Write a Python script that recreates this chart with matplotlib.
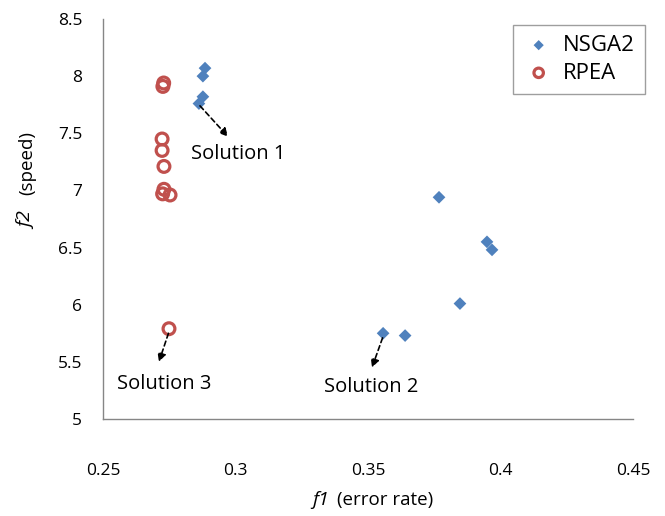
import matplotlib
matplotlib.use("Agg")
import matplotlib.pyplot as plt

plt.rcParams["font.family"] = ["Open Sans", "DejaVu Sans"]

# NSGA2 solutions (f1 = error rate, f2 = speed)
nsga2_f1 = [0.2885, 0.2877, 0.2877, 0.2862, 0.3768, 0.3949, 0.3968, 0.3847, 0.3557, 0.3640]
nsga2_f2 = [8.07, 8.00, 7.82, 7.76, 6.94, 6.55, 6.48, 6.01, 5.75, 5.73]

# RPEA solutions
rpea_f1 = [0.2726, 0.2729, 0.2723, 0.2723, 0.2730, 0.2730, 0.2725, 0.2753, 0.2749]
rpea_f2 = [7.91, 7.94, 7.45, 7.35, 7.21, 7.01, 6.97, 6.96, 5.79]

x_ticks = [0.25, 0.3, 0.35, 0.4, 0.45]
y_ticks = [5, 5.5, 6, 6.5, 7, 7.5, 8, 8.5]

BLUE = "#4F81BD"
RED = "#C0504D"
GRAY = "#868686"

fig = plt.figure(figsize=(6.65, 5.16), dpi=100)
ax = fig.add_axes([103 / 665, 1 - 419 / 516, 530 / 665, 400 / 516])

ax.scatter(nsga2_f1, nsga2_f2, marker="D", s=42, color=BLUE, edgecolors="none",
           label="NSGA2", zorder=3)
ax.scatter(rpea_f1, rpea_f2, marker="o", s=72, facecolors="none", edgecolors=RED,
           linewidths=2.3, label="RPEA", zorder=3)

ax.set_xlim(0.25, 0.45)
ax.set_ylim(5, 8.5)
ax.set_xticks(x_ticks)
ax.set_xticklabels([f"{v:g}" for v in x_ticks])
ax.set_yticks(y_ticks)
ax.set_yticklabels([f"{v:g}" for v in y_ticks])
ax.tick_params(axis="both", length=0, labelsize=12.5, colors="black")
ax.tick_params(axis="x", pad=32)
ax.tick_params(axis="y", pad=15)

for side in ["top", "right"]:
    ax.spines[side].set_visible(False)
for side in ["left", "bottom"]:
    ax.spines[side].set_color(GRAY)
    ax.spines[side].set_linewidth(1.0)

# annotations: (tail, head, text position, text)
arrow_kw = dict(arrowstyle="-|>", linestyle=(0, (3, 2)), color="black", lw=1.2,
                mutation_scale=12, shrinkA=0, shrinkB=0)
notes = [
    ((0.2866, 7.74), (0.2972, 7.47), (0.3010, 7.32), "Solution 1"),
    ((0.3555, 5.71), (0.3515, 5.45), (0.3511, 5.28), "Solution 2"),
    ((0.2747, 5.75), (0.2711, 5.50), (0.2730, 5.31), "Solution 3"),
]
for tail, head, pos, label in notes:
    ax.annotate("", xy=head, xytext=tail, arrowprops=arrow_kw)
    ax.text(pos[0], pos[1], label, ha="center", va="center", fontsize=14.5)

# axis titles with italic variable names
fig.text(312 / 665, 1 - 500 / 516, "f1", fontsize=14, style="italic",
         ha="left", va="center")
fig.text(337 / 665, 1 - 500 / 516, "(error rate)", fontsize=13.5,
         ha="left", va="center")
fig.text(27 / 665, 1 - 229 / 516, "f2", fontsize=14, style="italic",
         rotation=90, ha="center", va="bottom")
fig.text(27 / 665, 1 - 195 / 516, "(speed)", fontsize=13.5,
         rotation=90, ha="center", va="bottom")

leg = ax.legend(loc="upper right", bbox_to_anchor=(645 / 665, 1 - 25 / 516),
                bbox_transform=fig.transFigure, borderaxespad=0, fontsize=16,
                frameon=True, fancybox=False, handletextpad=0.4,
                handlelength=1.4, borderpad=0.45, labelspacing=0.3,
                markerscale=0.8)
leg.get_frame().set_edgecolor(GRAY)
leg.get_frame().set_linewidth(1.0)

fig.savefig("out.png", dpi=100)
